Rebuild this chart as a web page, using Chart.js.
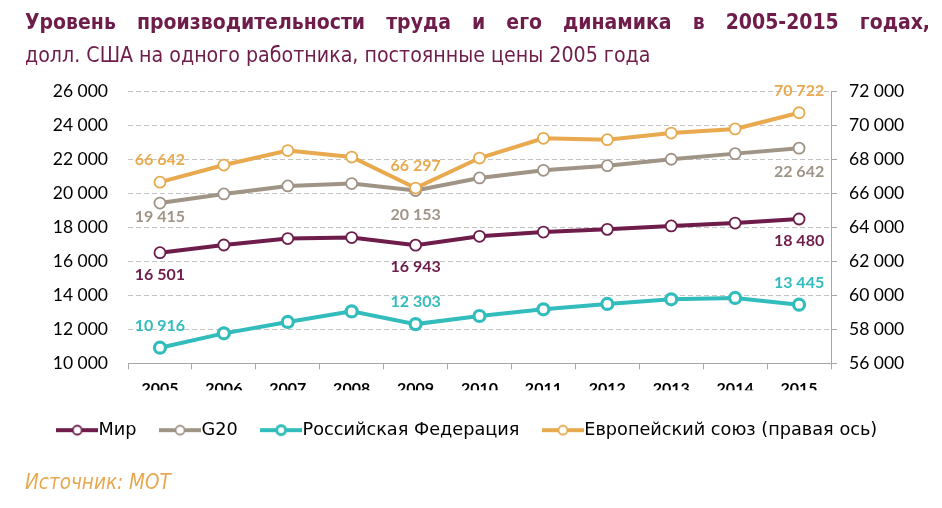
<!DOCTYPE html>
<html><head><meta charset="utf-8">
<script src="https://cdn.jsdelivr.net/npm/chart.js@4.4.1/dist/chart.umd.min.js"></script>
<style>
html,body{margin:0;padding:0;background:#fff;}
#wrap{position:relative;width:942px;height:508px;overflow:hidden;background:#fff;}
#c{position:absolute;left:0;top:0;}
.t{position:absolute;left:25px;width:905px;color:#6e1c4a;font-family:"DejaVu Sans Condensed","DejaVu Sans";font-stretch:condensed;line-height:26px;white-space:nowrap;}
#t1{top:9px;font-size:21px;font-weight:bold;text-align:justify;text-align-last:justify;white-space:normal;}
#t2{top:42px;font-size:21.2px;}
#src{position:absolute;left:25px;top:469px;line-height:26px;font-style:italic;color:#e8a850;font-size:20.5px;font-family:"DejaVu Sans Condensed","DejaVu Sans";font-stretch:condensed;}
</style>
</head><body>
<div id="wrap">
<canvas id="c" width="942" height="508"></canvas>
<div class="t" id="t1">Уровень производительности труда и его динамика в 2005-2015 годах,</div>
<div class="t" id="t2">долл. США на одного работника, постоянные цены 2005 года</div>
<div id="src">Источник: МОТ</div>
</div>
<script>
const years = ['2005','2006','2007','2008','2009','2010','2011','2012','2013','2014','2015'];
const world  = [16501,16950,17330,17390,16943,17460,17710,17870,18070,18240,18480];
const g20    = [19415,19950,20420,20560,20153,20890,21340,21610,21990,22320,22642];
const russia = [10916,11760,12430,13050,12303,12780,13170,13490,13760,13840,13445];
const eu     = [66642,67650,68500,68120,66297,68060,69220,69140,69530,69770,70722];
const seriesNames = ['Мир','G20','Российская Федерация','Европейский союз (правая ось)'];
const labeledYears = ['2005','2009','2015'];

const COLORS = ['#6e1c4a','#a09487','#33bcbc','#e8a94f'];
const fmt = v => String(Math.round(v)).replace(/\B(?=(\d{3})+(?!\d))/g, '\u00a0');

function legendIcon(color, ringW) {
  const cv = document.createElement('canvas');
  cv.width = 42; cv.height = 14;
  const g = cv.getContext('2d');
  g.strokeStyle = color; g.lineWidth = 4;
  g.beginPath(); g.moveTo(0,7); g.lineTo(42,7); g.stroke();
  g.beginPath(); g.arc(21,7,4.5,0,Math.PI*2);
  g.fillStyle = '#fff'; g.fill();
  g.lineWidth = ringW; g.stroke();
  return cv;
}
const icons = [legendIcon(COLORS[0],1.8), legendIcon(COLORS[1],1.8), legendIcon(COLORS[2],3), legendIcon(COLORS[3],1.8)];

const labelPlugin = {
  id: 'valueLabels',
  afterDatasetsDraw(chart, args, opts) {
    const ctx = chart.ctx;
    ctx.save();
    ctx.font = 'bold 16px Lato';
    ctx.textAlign = 'center';
    ctx.textBaseline = 'middle';
    chart.data.datasets.forEach((ds, di) => {
      const meta = chart.getDatasetMeta(di);
      const place = opts.place[di];
      labeledYears.forEach(y => {
        const idx = chart.data.labels.indexOf(y);
        const pt = meta.data[idx];
        let off = opts.offset;
        if (opts.special[di + ':' + idx] !== undefined) off = opts.special[di + ':' + idx];
        const yy = place === 'above' ? pt.y - off : pt.y + off;
        ctx.fillStyle = ds.borderColor;
        ctx.fillText(fmt(ds.data[idx]), pt.x, yy);
      });
    });
    ctx.restore();
  }
};

function mk(name, data, color, axis, order, ringW, r) {
  return {
    label: name, data, yAxisID: axis, order,
    borderColor: color, backgroundColor: color,
    borderWidth: 4, tension: 0,
    pointRadius: r, pointHoverRadius: r,
    pointBackgroundColor: '#fff', pointBorderColor: color, pointBorderWidth: ringW
  };
}

new Chart(document.getElementById('c'), {
  type: 'line',
  data: {
    labels: years,
    datasets: [
      mk(seriesNames[0], world, COLORS[0], 'y', 1, 1.8, 5.5),
      mk(seriesNames[1], g20, COLORS[1], 'y', 2, 1.8, 5.5),
      mk(seriesNames[2], russia, COLORS[2], 'y', 3, 3.2, 5.5),
      mk(seriesNames[3], eu, COLORS[3], 'y1', 0, 1.8, 5.5)
    ]
  },
  options: {
    responsive: false,
    animation: false,
    layout: { padding: { top: 91, bottom: 59, left: 0, right: 0 } },
    plugins: {
      title: { display: false },
      tooltip: { enabled: false },
      legend: {
        position: 'bottom',
        labels: {
          usePointStyle: true,
          pointStyleWidth: 25,
          boxHeight: 14,
          padding: 31,
          color: '#000',
          font: { family: 'DejaVu Sans', size: 17.7 },
          sort: (a, b) => a.datasetIndex - b.datasetIndex,
          generateLabels(chart) {
            const items = Chart.defaults.plugins.legend.labels.generateLabels(chart);
            items.forEach(it => { it.pointStyle = icons[it.datasetIndex]; });
            return items;
          }
        }
      },
      valueLabels: {
        place: ['below','below','above','above'],
        offset: 22,
        special: { '1:0': 14, '1:4': 24, '1:10': 24 }
      }
    },
    scales: {
      x: {
        type: 'category',
        offset: true,
        grid: { display: true, drawOnChartArea: false, offset: true, drawTicks: true, tickLength: 6, color: '#a6a6a6' },
        border: { display: true, color: '#a6a6a6', width: 1 },
        ticks: { color: '#000', font: { family: 'Lato', size: 16, weight: 'bold' }, padding: 10, maxRotation: 0 },
        afterFit(s) { s.height = 27; }
      },
      y: {
        position: 'left',
        min: 10000, max: 26000,
        ticks: { stepSize: 2000, color: '#000', font: { family: 'Lato', size: 17.5 }, padding: 20, callback: v => fmt(v) },
        grid: { color: '#c4c4c4', drawTicks: false, lineWidth: 1 },
        border: { display: false, dash: [5, 3] },
        afterFit(s) { s.width = 128; }
      },
      y1: {
        position: 'right',
        min: 56000, max: 72000,
        ticks: { stepSize: 2000, color: '#000', font: { family: 'Lato', size: 17.5 }, padding: 12, callback: v => fmt(v) },
        grid: { drawOnChartArea: false, tickLength: 6, color: '#a6a6a6' },
        border: { display: true, color: '#a6a6a6', width: 1 },
        afterFit(s) { s.width = 111; }
      }
    }
  },
  plugins: [labelPlugin]
});
</script>
</body></html>
